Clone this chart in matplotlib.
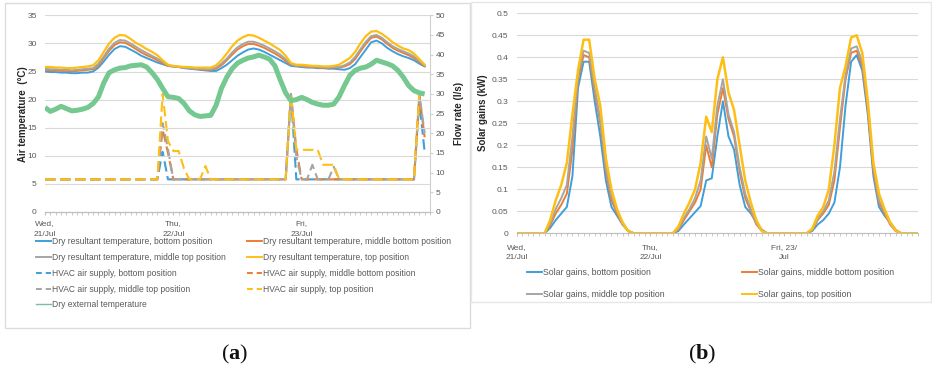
import numpy as np
import matplotlib
matplotlib.use("Agg")
import matplotlib.pyplot as plt
from matplotlib.lines import Line2D
from matplotlib.patches import Rectangle

plt.rcParams['font.family'] = ['Liberation Sans', 'DejaVu Sans']
plt.rcParams['mathtext.fontset'] = 'custom'
plt.rcParams['mathtext.rm'] = 'Liberation Serif'
plt.rcParams['mathtext.bf'] = 'Liberation Serif:bold'

# ---------------- data (a) : hourly, 72 points ----------------
temp_bottom = [25.0, 24.9, 24.9, 24.8, 24.8, 24.7, 24.7, 24.8, 24.8, 25.0, 25.7, 26.8, 28.0, 29.0, 29.5, 29.4,
               28.9, 28.4, 27.8, 27.4, 27.0, 26.6, 26.3, 26.0, 25.9, 25.8, 25.6, 25.5, 25.4, 25.3, 25.2, 25.1,
               25.1, 25.6, 26.2, 27.0, 27.8, 28.4, 28.9, 29.1, 28.9, 28.5, 28.0, 27.5, 27.0, 26.5, 26.0, 25.9,
               25.8, 25.7, 25.7, 25.6, 25.6, 25.5, 25.5, 25.4, 25.3, 25.6, 26.3, 27.6, 28.9, 30.2, 30.5, 30.0,
               29.2, 28.6, 28.1, 27.7, 27.4, 27.0, 26.4, 25.9]
temp_mid_bottom = [25.3, 25.2, 25.2, 25.1, 25.1, 25.0, 25.1, 25.2, 25.3, 25.4, 26.1, 27.4, 28.7, 29.7, 30.2, 30.1,
                   29.6, 29.0, 28.4, 27.9, 27.5, 27.0, 26.5, 26.0, 25.9, 25.8, 25.7, 25.6, 25.5, 25.4, 25.3, 25.3,
                   25.5, 26.1, 27.0, 28.0, 28.9, 29.5, 29.9, 29.9, 29.6, 29.2, 28.7, 28.2, 27.6, 26.9, 26.2, 26.0,
                   25.9, 25.8, 25.8, 25.7, 25.7, 25.6, 25.7, 25.7, 25.9, 26.3, 27.2, 28.6, 29.9, 31.0, 31.2, 30.7,
                   29.9, 29.2, 28.7, 28.3, 27.9, 27.4, 26.7, 26.0]
temp_mid_top = [25.5, 25.4, 25.4, 25.3, 25.3, 25.2, 25.3, 25.4, 25.5, 25.6, 26.4, 27.7, 29.1, 30.1, 30.6, 30.5,
                30.0, 29.4, 28.8, 28.3, 27.8, 27.3, 26.7, 26.1, 25.9, 25.8, 25.7, 25.6, 25.5, 25.5, 25.4, 25.4,
                25.7, 26.4, 27.3, 28.4, 29.3, 29.9, 30.3, 30.3, 30.0, 29.6, 29.1, 28.6, 28.0, 27.2, 26.3, 26.0,
                26.0, 25.9, 25.9, 25.8, 25.8, 25.7, 25.8, 25.8, 26.1, 26.6, 27.6, 29.0, 30.3, 31.3, 31.5, 31.0,
                30.2, 29.5, 29.0, 28.6, 28.2, 27.7, 26.9, 26.1]
temp_top = [25.8, 25.8, 25.7, 25.7, 25.6, 25.6, 25.7, 25.8, 25.9, 26.1, 27.0, 28.5, 30.0, 31.0, 31.5, 31.4,
            30.8, 30.1, 29.6, 29.0, 28.5, 27.9, 27.0, 26.2, 26.0, 25.9, 25.8, 25.8, 25.7, 25.7, 25.7, 25.7,
            26.1, 27.0, 28.2, 29.5, 30.5, 31.1, 31.5, 31.4, 31.0, 30.5, 30.0, 29.4, 28.8, 27.8, 26.5, 26.2,
            26.2, 26.1, 26.0, 26.0, 25.9, 25.9, 26.0, 26.2, 26.8, 27.4, 28.5, 30.0, 31.3, 32.1, 32.2, 31.7,
            31.0, 30.2, 29.6, 29.1, 28.8, 28.2, 27.2, 26.2]
temp_external = [18.6, 17.9, 18.3, 18.8, 18.4, 18.0, 18.1, 18.3, 18.6, 19.3, 20.5, 23.0, 24.8, 25.3, 25.6, 25.7,
                 26.0, 26.1, 26.2, 25.8, 24.8, 23.6, 22.0, 20.5, 20.4, 20.2, 19.3, 18.0, 17.3, 17.0, 17.1, 17.2,
                 19.0, 22.0, 24.0, 25.5, 26.5, 27.0, 27.4, 27.6, 27.9, 27.6, 27.2, 26.0, 23.5, 21.2, 19.8, 20.0,
                 20.4, 20.0, 19.5, 19.2, 19.0, 19.0, 19.2, 20.5, 22.5, 24.3, 25.2, 25.6, 25.8, 26.3, 27.0, 26.7,
                 26.4, 26.0, 25.2, 24.0, 22.5, 21.6, 21.2, 21.0]
B = 8.3
hvac_bottom = [B]*22 + [15.3] + [B]*23 + [30.0] + [B]*23 + [28.0, 15.3]
hvac_mid_bottom = [B]*22 + [21.0, 15.0] + [B]*22 + [30.0, 16.0] + [B]*22 + [30.0, 19.0]
hvac_mid_top = ([B]*22 + [22.6, 16.0] + [B]*22 + [30.0, 14.0, B, B, 12.0, B, B, B, 11.5]
                + [B]*15 + [30.0, 20.0])
hvac_top = ([B]*22 + [30.0, 18.0, 15.5, 15.5, 11.0, B, B, B, 11.7] + [B]*15
            + [30.0, 15.8, 15.8, 15.8, 15.8, 15.8, 12.0, 12.0, 12.0] + [B]*15 + [30.0, 30.0])
hours_a = np.arange(len(temp_bottom))

# ---------------- data (b) : hourly, 73 points ----------------
solar_bottom = [0, 0, 0, 0, 0, 0, 0.012, 0.03, 0.045, 0.06, 0.13, 0.33, 0.39, 0.39, 0.3, 0.22,
                0.12, 0.06, 0.04, 0.02, 0.006, 0, 0, 0, 0, 0, 0, 0, 0, 0.005, 0.02, 0.034,
                0.048, 0.062, 0.12, 0.125, 0.22, 0.3, 0.22, 0.19, 0.11, 0.06, 0.045, 0.025, 0.008, 0, 0, 0,
                0, 0, 0, 0, 0, 0.005, 0.02, 0.03, 0.045, 0.07, 0.15, 0.29, 0.39, 0.405, 0.37, 0.27,
                0.13, 0.06, 0.04, 0.025, 0.008, 0, 0, 0, 0]
solar_mid_bottom = [0, 0, 0, 0, 0, 0, 0.018, 0.045, 0.065, 0.09, 0.19, 0.35, 0.405, 0.4, 0.32, 0.25,
                    0.14, 0.075, 0.045, 0.02, 0.005, 0, 0, 0, 0, 0, 0, 0, 0, 0.008, 0.03, 0.05,
                    0.07, 0.1, 0.2, 0.15, 0.27, 0.33, 0.26, 0.22, 0.14, 0.08, 0.05, 0.02, 0.005, 0, 0, 0,
                    0, 0, 0, 0, 0, 0.007, 0.03, 0.045, 0.065, 0.12, 0.24, 0.35, 0.41, 0.415, 0.38, 0.28,
                    0.14, 0.07, 0.045, 0.02, 0.005, 0, 0, 0, 0]
solar_mid_top = [0, 0, 0, 0, 0, 0, 0.022, 0.055, 0.08, 0.11, 0.22, 0.36, 0.415, 0.41, 0.33, 0.26,
                 0.15, 0.085, 0.05, 0.022, 0.005, 0, 0, 0, 0, 0, 0, 0, 0, 0.01, 0.035, 0.055,
                 0.08, 0.12, 0.22, 0.17, 0.29, 0.35, 0.27, 0.23, 0.15, 0.09, 0.055, 0.022, 0.005, 0, 0, 0,
                 0, 0, 0, 0, 0, 0.008, 0.033, 0.05, 0.075, 0.14, 0.26, 0.36, 0.42, 0.425, 0.39, 0.29,
                 0.15, 0.075, 0.05, 0.022, 0.006, 0, 0, 0, 0]
solar_top = [0, 0, 0, 0, 0, 0, 0.03, 0.075, 0.11, 0.16, 0.27, 0.37, 0.44, 0.44, 0.35, 0.29,
             0.17, 0.1, 0.055, 0.025, 0.005, 0, 0, 0, 0, 0, 0, 0, 0, 0.015, 0.045, 0.07,
             0.1, 0.16, 0.265, 0.23, 0.35, 0.4, 0.32, 0.28, 0.2, 0.12, 0.07, 0.03, 0.005, 0, 0, 0,
             0, 0, 0, 0, 0, 0.01, 0.04, 0.06, 0.1, 0.2, 0.33, 0.38, 0.445, 0.45, 0.41, 0.3,
             0.16, 0.09, 0.055, 0.025, 0.007, 0, 0, 0, 0]
hours_b = np.arange(len(solar_bottom))

day_ticks = [0, 24, 48]
day_labels_a = ['Wed,\n21/Jul', 'Thu,\n22/Jul', 'Fri,\n23/Jul']
day_labels_b = ['Wed,\n21/Jul', 'Thu,\n22/Jul', 'Fri, 23/\nJul']

C_BLUE = '#3d9fdb'
C_ORANGE = '#ed7d31'
C_GRAY = '#a5a5a5'
C_YELLOW = '#fdbf16'
C_GREEN = '#74c890'
TXT = '#595959'

W, H = 932, 376
fig = plt.figure(figsize=(W / 100, H / 100), dpi=100)


def fx(px):
    return px / W


def fy(py):
    return 1 - py / H


# chart frames
fig.patches.append(Rectangle((fx(5), fy(328)), fx(465), 325 / H, transform=fig.transFigure,
                             fill=False, ec='#dcdcdc', lw=1.0))
fig.patches.append(Rectangle((fx(471), fy(302)), fx(460), 300 / H, transform=fig.transFigure,
                             fill=False, ec='#e6e6e6', lw=1.0))

# ---------------- (a) ----------------
axa = fig.add_axes([fx(45), fy(212), fx(385), (212 - 15.3) / H])
axa2 = axa.twinx()
axa.set_zorder(axa2.get_zorder() + 1)
axa.patch.set_visible(False)

dash = (0, (5, 2.2))
axa2.plot(hours_a, hvac_bottom, color=C_BLUE, lw=1.5, ls=dash)
axa2.plot(hours_a, hvac_mid_bottom, color=C_ORANGE, lw=1.5, ls=dash)
axa2.plot(hours_a, hvac_mid_top, color=C_GRAY, lw=1.5, ls=dash)
axa2.plot(hours_a, hvac_top, color=C_YELLOW, lw=1.5, ls=dash)

axa.plot(hours_a, temp_external, color=C_GREEN, lw=3.6, solid_capstyle='butt')
axa.plot(hours_a, temp_bottom, color=C_BLUE, lw=1.4)
axa.plot(hours_a, temp_mid_bottom, color=C_ORANGE, lw=1.4)
axa.plot(hours_a, temp_mid_top, color=C_GRAY, lw=1.4)
axa.plot(hours_a, temp_top, color=C_YELLOW, lw=1.6)

axa.set_xlim(0, 72)
axa.set_ylim(0, 35)
axa2.set_ylim(0, 50)
axa.set_yticks(np.arange(0, 36, 5))
axa2.set_yticks(np.arange(0, 51, 5))
axa.grid(axis='y', color='#d9d9d9', lw=0.8)
axa.set_axisbelow(True)
axa.set_xticks(day_ticks)
axa.set_xticklabels(day_labels_a, linespacing=1.8)
axa.set_xticks(np.arange(0, 73, 1), minor=True)
for ax in (axa, axa2):
    for s in ('top', 'left', 'right'):
        ax.spines[s].set_visible(False)
    ax.spines['bottom'].set_color('#bfbfbf')
axa2.spines['right'].set_visible(True)
axa2.spines['right'].set_color('#d0d0d0')
axa.tick_params(axis='y', length=0, labelsize=6, labelcolor=TXT, pad=6)
axa2.tick_params(axis='y', length=2, color='#d0d0d0', labelsize=6, labelcolor=TXT, pad=2)
axa.tick_params(axis='x', which='major', length=2, color='#bfbfbf', labelsize=6, labelcolor=TXT, pad=4)
axa.tick_params(axis='x', which='minor', length=2, color='#bfbfbf')
axa.set_ylabel('Air temperature  (°C)', fontsize=7, fontweight='bold', color='#262626')
axa.yaxis.set_label_coords(-0.045, 0.5)
axa2.set_ylabel('Flow rate (l/s)', fontsize=7, fontweight='bold', color='#262626', rotation=90)
axa2.yaxis.set_label_coords(1.063, 0.5)

# legend (a)
h_tb = Line2D([], [], color=C_BLUE, lw=1.4)
h_tmb = Line2D([], [], color=C_ORANGE, lw=1.4)
h_tmt = Line2D([], [], color=C_GRAY, lw=1.4)
h_tt = Line2D([], [], color=C_YELLOW, lw=1.4)
h_hb = Line2D([], [], color=C_BLUE, lw=1.4, ls=(0, (3, 2)))
h_hmb = Line2D([], [], color=C_ORANGE, lw=1.4, ls=(0, (3, 2)))
h_hmt = Line2D([], [], color=C_GRAY, lw=1.4, ls=(0, (3, 2)))
h_ht = Line2D([], [], color=C_YELLOW, lw=1.4, ls=(0, (3, 2)))
h_ext = Line2D([], [], color='#7fb9a6', lw=1.0)

leg_kw = dict(frameon=False, fontsize=6.15, handlelength=1.75, handletextpad=0.12,
              borderpad=0, borderaxespad=0, labelspacing=0.8, labelcolor=TXT)
fig.legend([h_tb, h_tmt, h_hb, h_hmt, h_ext],
           ['Dry resultant temperature, bottom position',
            'Dry resultant temperature, middle top position',
            'HVAC air supply, bottom position',
            'HVAC air supply, middle top position',
            'Dry external temperature'],
           loc='upper left', bbox_to_anchor=(fx(36), fy(237)), **leg_kw)
fig.legend([h_tmb, h_tt, h_hmb, h_ht],
           ['Dry resultant temperature, middle bottom position',
            'Dry resultant temperature, top position',
            'HVAC air supply, middle bottom position',
            'HVAC air supply, top position'],
           loc='upper left', bbox_to_anchor=(fx(247), fy(237)), **leg_kw)

# ---------------- (b) ----------------
axb = fig.add_axes([fx(516.7), fy(233.3), fx(401.3), 220 / H])
axb.plot(hours_b, solar_bottom, color=C_BLUE, lw=1.4)
axb.plot(hours_b, solar_mid_bottom, color=C_ORANGE, lw=1.4)
axb.plot(hours_b, solar_mid_top, color=C_GRAY, lw=1.4)
axb.plot(hours_b, solar_top, color=C_YELLOW, lw=1.8)
axb.set_xlim(0, 72)
axb.set_ylim(0, 0.5)
yt = np.round(np.arange(0, 0.501, 0.05), 2)
axb.set_yticks(yt)
axb.set_yticklabels(['0' if v == 0 else ('%g' % v) for v in yt])
axb.grid(axis='y', color='#d9d9d9', lw=0.8)
axb.set_axisbelow(True)
axb.set_xticks(day_ticks)
axb.set_xticklabels(day_labels_b, linespacing=1.5)
axb.set_xticks(np.arange(0, 73, 1), minor=True)
for s in ('top', 'left', 'right'):
    axb.spines[s].set_visible(False)
axb.spines['bottom'].set_color('#bfbfbf')
axb.tick_params(axis='y', length=0, labelsize=6, labelcolor=TXT, pad=6)
axb.tick_params(axis='x', which='major', length=2, color='#bfbfbf', labelsize=6, labelcolor=TXT, pad=6)
axb.tick_params(axis='x', which='minor', length=2, color='#bfbfbf')
axb.set_ylabel('Solar gains (kW)', fontsize=7, fontweight='bold', color='#262626')
axb.yaxis.set_label_coords(-0.072, 0.55)

hb1 = Line2D([], [], color=C_BLUE, lw=1.4)
hb2 = Line2D([], [], color=C_ORANGE, lw=1.4)
hb3 = Line2D([], [], color=C_GRAY, lw=1.4)
hb4 = Line2D([], [], color=C_YELLOW, lw=1.4)
leg_kw_b = dict(leg_kw, fontsize=6.3, labelspacing=1.45)
fig.legend([hb1, hb3], ['Solar gains, bottom position', 'Solar gains, middle top position'],
           loc='upper left', bbox_to_anchor=(fx(527), fy(268)), **leg_kw_b)
fig.legend([hb2, hb4], ['Solar gains, middle bottom position', 'Solar gains, top position'],
           loc='upper left', bbox_to_anchor=(fx(742), fy(268)), **leg_kw_b)

# panel captions
fig.text(fx(234.5), fy(354), r'($\mathbf{a}$)', ha='center', va='center', fontsize=16,
         family='Liberation Serif', color='#111111')
fig.text(fx(702.5), fy(354), r'($\mathbf{b}$)', ha='center', va='center', fontsize=16,
         family='Liberation Serif', color='#111111')

fig.savefig('out.png', dpi=100, facecolor='white')
